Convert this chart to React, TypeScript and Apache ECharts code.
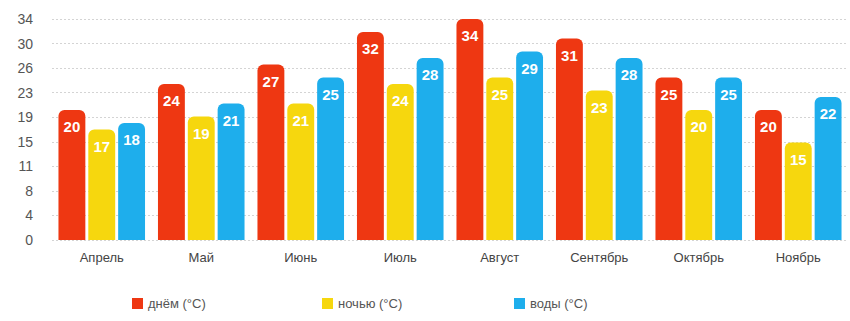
import React, { useEffect, useRef } from "react";
import * as echarts from "echarts";

const categories = ["Апрель", "Май", "Июнь", "Июль", "Август", "Сентябрь", "Октябрь", "Ноябрь"];
const dayTemps = [20, 24, 27, 32, 34, 31, 25, 20];
const nightTemps = [17, 19, 21, 24, 25, 23, 20, 15];
const waterTemps = [18, 21, 25, 28, 29, 28, 25, 22];
const seriesNames = ["днём (°C)", "ночью (°C)", "воды (°C)"];
const colors = ["#EE3712", "#F6D70E", "#1EAEEC"];
const yMax = 34;
const ySplits = 9;

export default function App() {
  const ref = useRef<HTMLDivElement>(null);
  useEffect(() => {
    if (!ref.current) return;
    const chart = echarts.init(ref.current, null, { renderer: "svg" });
    const font = "'Liberation Sans', Arial, Helvetica, sans-serif";
    const mk = (name: string, data: number[], color: string) => ({
      name,
      type: "bar",
      data,
      barGap: "11%",
      barCategoryGap: "13%",
      itemStyle: { color, borderRadius: [6, 6, 0, 0] },
      label: {
        show: true,
        position: "insideTop",
        distance: 9,
        color: "#fff",
        fontSize: 15,
        fontWeight: "bold",
        fontFamily: font,
      },
    });
    const legendLefts = [132, 322, 514];
    chart.setOption({
      animation: false,
      textStyle: { fontFamily: font },
      grid: { left: 52, right: 2, top: 19, bottom: 81 },
      legend: seriesNames.map((n, i) => ({
        bottom: 11,
        left: legendLefts[i],
        padding: 0,
        itemWidth: 11,
        itemHeight: 11,
        icon: "rect",
        textStyle: { color: "#555", fontSize: 13, fontFamily: font },
        data: [n],
      })),
      xAxis: {
        type: "category",
        data: categories,
        axisLine: { show: false },
        axisTick: { show: false },
        axisLabel: { color: "#444", fontSize: 13, margin: 11 },
      },
      yAxis: {
        type: "value",
        min: 0,
        max: yMax,
        interval: yMax / ySplits,
        axisLabel: {
          color: "#555",
          fontSize: 14,
          margin: 19,
          formatter: (v: number) => String(Math.round(v)),
        },
        splitLine: { lineStyle: { color: "#d4d4d4", type: [2, 2] } },
      },
      series: [
        mk(seriesNames[0], dayTemps, colors[0]),
        mk(seriesNames[1], nightTemps, colors[1]),
        mk(seriesNames[2], waterTemps, colors[2]),
      ],
    });
    return () => chart.dispose();
  }, []);
  return <div ref={ref} style={{ width: 850, height: 321, position: "absolute", left: 0, top: 0 }} />;
}
